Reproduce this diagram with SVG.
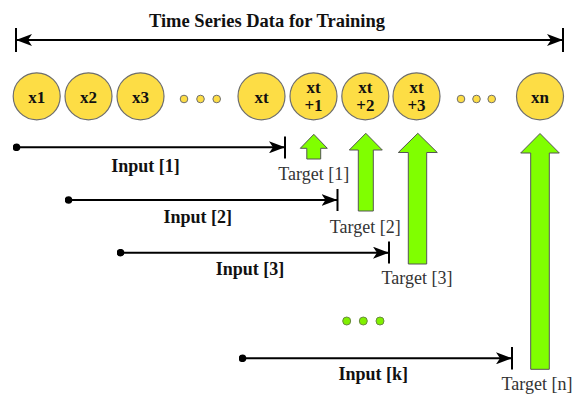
<svg xmlns="http://www.w3.org/2000/svg" width="573" height="394" viewBox="0 0 573 394" font-family="Liberation Serif, Times New Roman, serif">
<style>
.node circle{fill:#FDDD45;stroke:#6e6e6e;stroke-width:1.2}
.nt{font-weight:bold;font-size:17px;text-anchor:middle;fill:#111}
.dot{fill:#FDDD45;stroke:#6e6e6e;stroke-width:1}
.gdot{fill:#80F000;stroke:#6a8a40;stroke-width:1}
.ln{stroke:#000;stroke-width:2;fill:none}
.tick{stroke:#000;stroke-width:2}
.lbl{font-weight:bold;font-size:18px;text-anchor:middle;fill:#111}
.tg{font-size:18px;text-anchor:middle;fill:#333}
.garrow{fill:#80FF00;stroke:#555;stroke-width:1}
</style>
<defs>
<marker id="ah" viewBox="0 0 16 12" refX="16" refY="6" markerWidth="16" markerHeight="12" markerUnits="userSpaceOnUse" orient="auto-start-reverse">
<path d="M0,0 L16,6 L0,12 L4,6 Z" fill="#000"/>
</marker>
<marker id="dt" viewBox="0 0 8 8" refX="4" refY="4" markerWidth="8" markerHeight="8" markerUnits="userSpaceOnUse">
<circle cx="4" cy="4" r="3.8" fill="#000"/>
</marker>
</defs>
<rect width="573" height="394" fill="#fff"/>

<text x="267" y="27" class="lbl" font-family="Liberation Serif, serif" style="font-size:18.5px">Time Series Data for Training</text>

<g id="connectors">
<line class="ln" x1="16" y1="40" x2="563" y2="40" marker-start="url(#ah)" marker-end="url(#ah)"/>
<line class="tick" x1="16" y1="28" x2="16" y2="52"/>
<line class="tick" x1="563" y1="28" x2="563" y2="52"/>

<line class="ln" x1="16.5" y1="147.3" x2="285" y2="147.3" marker-start="url(#dt)" marker-end="url(#ah)"/>
<line class="tick" x1="285" y1="136.5" x2="285" y2="158.5"/>

<line class="ln" x1="68.5" y1="200" x2="337.5" y2="200" marker-start="url(#dt)" marker-end="url(#ah)"/>
<line class="tick" x1="337.5" y1="189" x2="337.5" y2="211"/>

<line class="ln" x1="120.5" y1="252.7" x2="389" y2="252.7" marker-start="url(#dt)" marker-end="url(#ah)"/>
<line class="tick" x1="389" y1="241.5" x2="389" y2="263.5"/>

<line class="ln" x1="242.5" y1="358.3" x2="512" y2="358.3" marker-start="url(#dt)" marker-end="url(#ah)"/>
<line class="tick" x1="512" y1="347" x2="512" y2="369.5"/>
</g>

<g id="labels" font-family="Liberation Serif, serif">
<text x="145.5" y="171.5" class="lbl">Input [1]</text>
<text x="197.8" y="223" class="lbl">Input [2]</text>
<text x="250" y="275" class="lbl">Input [3]</text>
<text x="373.3" y="380" class="lbl">Input [k]</text>
<text x="313.7" y="180" class="tg">Target [1]</text>
<text x="365.2" y="233" class="tg">Target [2]</text>
<text x="417" y="284" class="tg">Target [3]</text>
<text x="537" y="390" class="tg">Target [n]</text>
</g>

<g font-family="Liberation Serif, serif">
<g id="n-x1" class="node"><circle cx="36.7" cy="96.3" r="23.5"/><text x="36.7" y="103" class="nt">x1</text></g>
<g id="n-x2" class="node"><circle cx="88.5" cy="96.3" r="23.5"/><text x="88.5" y="103" class="nt">x2</text></g>
<g id="n-x3" class="node"><circle cx="140.5" cy="96.3" r="23.5"/><text x="140.5" y="103" class="nt">x3</text></g>
<g id="dots1"><circle class="dot" cx="184" cy="99" r="3.8"/><circle class="dot" cx="200.5" cy="99" r="3.8"/><circle class="dot" cx="216.7" cy="99" r="3.8"/></g>
<g id="n-xt" class="node"><circle cx="261.5" cy="96.3" r="23.5"/><text x="261.5" y="103" class="nt">xt</text></g>
<g id="n-xt1" class="node"><circle cx="313.5" cy="96.3" r="23.5"/><text x="313.5" y="93" class="nt">xt</text><text x="313.5" y="111" class="nt">+1</text></g>
<g id="n-xt2" class="node"><circle cx="365.3" cy="96.3" r="23.5"/><text x="365.3" y="93" class="nt">xt</text><text x="365.3" y="111" class="nt">+2</text></g>
<g id="n-xt3" class="node"><circle cx="416.5" cy="96.3" r="23.5"/><text x="416.5" y="93" class="nt">xt</text><text x="416.5" y="111" class="nt">+3</text></g>
<g id="dots2"><circle class="dot" cx="461" cy="99" r="3.8"/><circle class="dot" cx="476.5" cy="99" r="3.8"/><circle class="dot" cx="491.7" cy="99" r="3.8"/></g>
<g id="n-xn" class="node"><circle cx="540" cy="96.3" r="23.5"/><text x="540" y="103" class="nt">xn</text></g>
</g>

<g id="target-arrows">
<path id="ta1" class="garrow" d="M313.8,134.3 L327.3,148.3 L320.7,148.3 L320.7,159 L306.8,159 L306.8,148.3 L300.3,148.3 Z"/>
<path id="ta2" class="garrow" d="M365.8,133.3 L382.3,150 L373.3,150 L373.3,211 L358.3,211 L358.3,150 L349.3,150 Z"/>
<path id="ta3" class="garrow" d="M417.8,133.3 L437.3,152.5 L426.7,152.5 L426.7,264 L408.3,264 L408.3,152.5 L398.3,152.5 Z"/>
<path id="tan" class="garrow" d="M540,133.5 L559.3,153 L549.3,153 L549.3,369.3 L530.7,369.3 L530.7,153 L520.7,153 Z"/>
</g>

<g id="dots3"><circle class="gdot" cx="346.7" cy="321" r="4"/><circle class="gdot" cx="363.3" cy="321" r="4"/><circle class="gdot" cx="380" cy="321" r="4"/></g>
</svg>
